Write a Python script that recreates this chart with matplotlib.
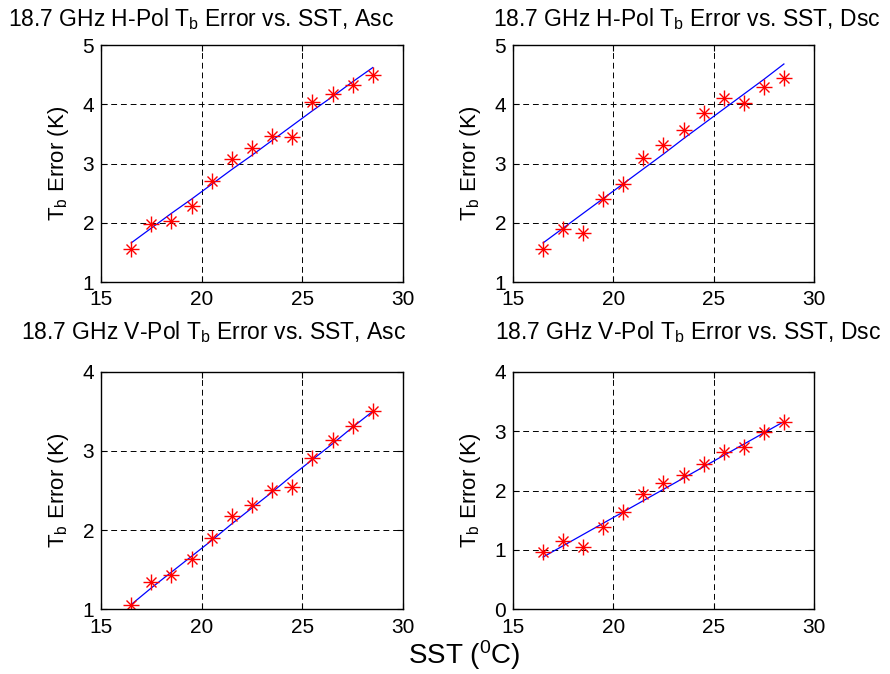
import numpy as np
import matplotlib
matplotlib.use('Agg')
import matplotlib.pyplot as plt

plt.rcParams['font.family'] = ['Liberation Sans', 'DejaVu Sans']
plt.rcParams['mathtext.fontset'] = 'custom'
plt.rcParams['mathtext.rm'] = 'Liberation Sans'
plt.rcParams['mathtext.it'] = 'Liberation Sans'

# SST bins (deg C)
sst = [16.5, 17.5, 18.5, 19.5, 20.5, 21.5, 22.5, 23.5, 24.5, 25.5, 26.5, 27.5, 28.5]

# Tb error (K) per bin
h_asc = [1.55, 1.98, 2.03, 2.28, 2.71, 3.07, 3.26, 3.46, 3.44, 4.04, 4.17, 4.33, 4.50]
h_dsc = [1.55, 1.89, 1.83, 2.40, 2.65, 3.10, 3.31, 3.57, 3.86, 4.10, 4.02, 4.29, 4.45]
v_asc = [1.06, 1.34, 1.43, 1.63, 1.90, 2.18, 2.32, 2.51, 2.54, 2.91, 3.14, 3.32, 3.50]
v_dsc = [0.96, 1.15, 1.05, 1.39, 1.63, 1.94, 2.12, 2.26, 2.45, 2.65, 2.73, 2.99, 3.16]

# fitted lines
h_asc_fit = [1.66, 1.91, 2.16, 2.40, 2.65, 2.90, 3.14, 3.39, 3.64, 3.89, 4.13, 4.38, 4.62]
h_dsc_fit = [1.66, 1.91, 2.16, 2.41, 2.66, 2.91, 3.16, 3.42, 3.67, 3.92, 4.17, 4.42, 4.68]
v_asc_fit = [1.06, 1.27, 1.47, 1.67, 1.87, 2.08, 2.28, 2.48, 2.69, 2.89, 3.09, 3.30, 3.50]
v_dsc_fit = [0.88, 1.07, 1.26, 1.45, 1.64, 1.83, 2.02, 2.21, 2.40, 2.59, 2.78, 2.97, 3.16]

titles = ['18.7 GHz H-Pol T$_\\mathrm{b}$ Error vs. SST, Asc',
          '18.7 GHz H-Pol T$_\\mathrm{b}$ Error vs. SST, Dsc',
          '18.7 GHz V-Pol T$_\\mathrm{b}$ Error vs. SST, Asc',
          '18.7 GHz V-Pol T$_\\mathrm{b}$ Error vs. SST, Dsc']
ylims = [(1, 5), (1, 5), (1, 4), (0, 4)]
data = [h_asc, h_dsc, v_asc, v_dsc]
fits = [h_asc_fit, h_dsc_fit, v_asc_fit, v_dsc_fit]

fig = plt.figure(figsize=(8.9, 6.74), dpi=100)

# axes rectangles in figure fraction
rects = [[0.1135, 0.5816, 0.3393, 0.3516],
         [0.5764, 0.5816, 0.3382, 0.3516],
         [0.1135, 0.0960, 0.3393, 0.3525],
         [0.5764, 0.0960, 0.3382, 0.3525]]
title_pos = [(0.226, 0.972), (0.772, 0.972), (0.240, 0.507), (0.773, 0.507)]

for i in range(4):
	ax = fig.add_axes(rects[i])
	ax.plot(sst, fits[i], color='b', lw=0.9)
	ax.plot(sst, data[i], ls='none', marker='+', ms=11, mew=1.0, color='r')
	ax.plot(sst, data[i], ls='none', marker='x', ms=7, mew=1.0, color='r')
	ax.set_xlim(15, 30)
	ax.set_ylim(*ylims[i])
	ax.set_xticks([15, 20, 25, 30])
	ax.set_yticks(np.arange(ylims[i][0], ylims[i][1] + 1))
	ax.grid(True, color='k', ls=(0, (6, 4)), lw=0.7)
	ax.tick_params(direction='in', top=True, right=True, length=4, labelsize=15)
	ax.tick_params(axis='x', pad=6)
	ax.tick_params(axis='y', pad=5)
	for s in ax.spines.values():
		s.set_linewidth(1.0)
	ax.set_ylabel('T$_\\mathrm{b}$ Error (K)', fontsize=16)
	ax.yaxis.set_label_coords(-0.10, 0.5)
	fig.text(title_pos[i][0], title_pos[i][1], titles[i], fontsize=16.5, ha='center', va='center')

fig.text(0.522, 0.028, 'SST ($^\\mathrm{0}$C)', fontsize=20, ha='center', va='center')

fig.savefig('out.png', dpi=100)
